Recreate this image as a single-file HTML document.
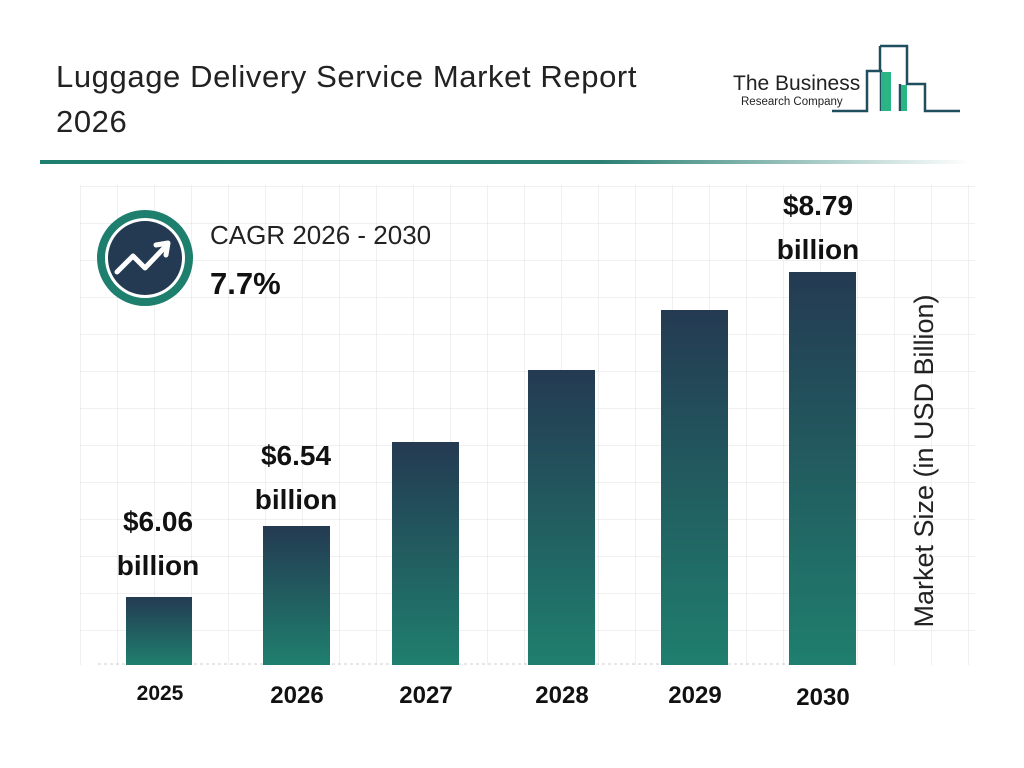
<!DOCTYPE html>
<html><head><meta charset="utf-8"><style>
body{margin:0;width:1024px;height:768px;background:#fff;font-family:"Liberation Sans",Arial,sans-serif;overflow:hidden;position:relative}
.t{position:absolute}
</style></head><body>
<svg width="1024" height="768" style="position:absolute;left:0;top:0">
<defs>
<linearGradient id="g" x1="0" y1="0" x2="0" y2="1"><stop offset="0" stop-color="#243a52"/><stop offset="1" stop-color="#1f7f6e"/></linearGradient>
<linearGradient id="hl" x1="0" y1="0" x2="1" y2="0"><stop offset="0" stop-color="#1f7f6e"/><stop offset="0.6" stop-color="#2a7f72"/><stop offset="1" stop-color="#ffffff"/></linearGradient>
<pattern id="grid" x="6" y="1" width="37" height="37" patternUnits="userSpaceOnUse"><path d="M0 0H37M0 0V37" stroke="#e2e2e2" stroke-width="1" fill="none"/></pattern>
</defs>
<rect x="80" y="185" width="895" height="480" fill="url(#grid)"/>
<rect x="40" y="160" width="930" height="4" fill="url(#hl)"/>
<line x1="98" y1="664" x2="860" y2="664" stroke="#ccc" stroke-dasharray="3 3"/>
<rect x="126" y="597" width="66" height="68" fill="url(#g)"/>
<rect x="263" y="526" width="67" height="139" fill="url(#g)"/>
<rect x="392" y="442" width="67" height="223" fill="url(#g)"/>
<rect x="528" y="370" width="67" height="295" fill="url(#g)"/>
<rect x="661" y="310" width="67" height="355" fill="url(#g)"/>
<rect x="789" y="272" width="67" height="393" fill="url(#g)"/>
<circle cx="145" cy="258" r="48" fill="#1f7f6e"/>
<circle cx="145" cy="258" r="40" fill="#fff"/>
<circle cx="145" cy="258" r="37" fill="#243a52"/>
<polyline points="117,272 133,256 145,268 166,246" fill="none" stroke="#fff" stroke-width="5" stroke-linejoin="round" stroke-linecap="round"/>
<polyline points="156,245 168,243 166,255" fill="none" stroke="#fff" stroke-width="5" stroke-linecap="round" stroke-linejoin="round"/>
<g fill="none" stroke="#1f4e5f" stroke-width="2.5">
<polyline points="832,111 867,111 867,71 881,71 881,111"/>
<polyline points="880,46 907,46 907,84 925,84 925,111 960,111"/>
<line x1="880" y1="46" x2="880" y2="71"/>
<line x1="900" y1="84" x2="900" y2="111"/>
</g>
<rect x="881" y="72" width="10" height="39" fill="#2bb585"/>
<rect x="901" y="85" width="6" height="26" fill="#2bb585"/>
</svg>
<div class="t" style="left:56px;top:54px;font-size:31px;letter-spacing:0.6px;color:#222;line-height:45px">Luggage Delivery Service Market Report<br>2026</div>
<div class="t" style="left:733px;top:72px;font-size:21px;color:#222">The Business</div>
<div class="t" style="left:741px;top:96px;font-size:11.5px;color:#222">Research Company</div>
<div class="t" style="left:210px;top:220px;font-size:26px;color:#222">CAGR 2026 - 2030</div>
<div class="t" style="left:210px;top:266px;font-size:31px;font-weight:bold;color:#111">7.7%</div>
<div class="t" style="left:98px;top:500px;width:120px;text-align:center;font-size:28px;font-weight:bold;line-height:44px;color:#111">$6.06<br>billion</div>
<div class="t" style="left:236px;top:434px;width:120px;text-align:center;font-size:28px;font-weight:bold;line-height:44px;color:#111">$6.54<br>billion</div>
<div class="t" style="left:758px;top:184px;width:120px;text-align:center;font-size:28px;font-weight:bold;line-height:44px;color:#111">$8.79<br>billion</div>
<div class="t" style="left:100px;top:682px;width:120px;text-align:center;font-size:21px;font-weight:bold;color:#111">2025</div>
<div class="t" style="left:237px;top:682px;width:120px;text-align:center;font-size:24px;font-weight:bold;color:#111">2026</div>
<div class="t" style="left:366px;top:682px;width:120px;text-align:center;font-size:24px;font-weight:bold;color:#111">2027</div>
<div class="t" style="left:502px;top:682px;width:120px;text-align:center;font-size:24px;font-weight:bold;color:#111">2028</div>
<div class="t" style="left:635px;top:682px;width:120px;text-align:center;font-size:24px;font-weight:bold;color:#111">2029</div>
<div class="t" style="left:763px;top:684px;width:120px;text-align:center;font-size:24px;font-weight:bold;color:#111">2030</div>
<div class="t" style="left:924px;top:461px;width:400px;margin-left:-200px;text-align:center;transform:rotate(-90deg);font-size:27px;color:#222;line-height:30px;margin-top:-15px">Market Size (in USD Billion)</div>
</body></html>
